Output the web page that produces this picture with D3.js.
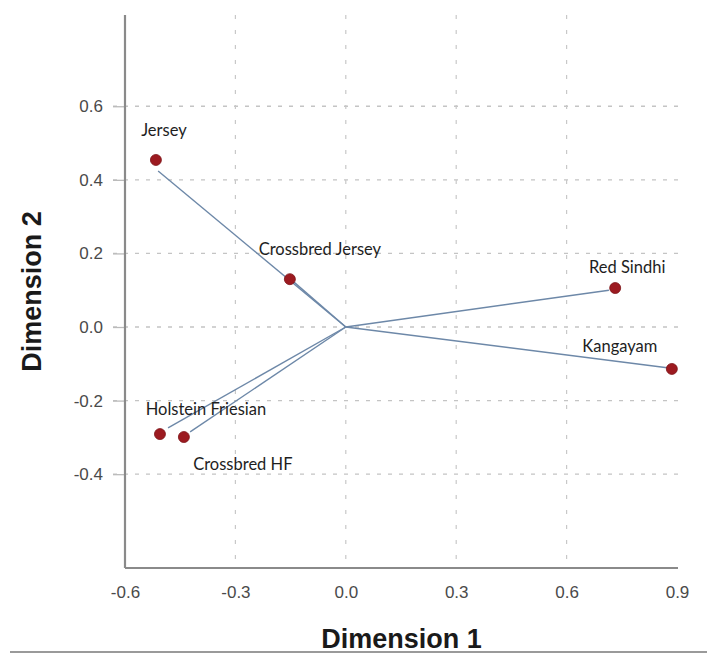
<!DOCTYPE html>
<html>
<head>
<meta charset="utf-8">
<script src="https://cdn.jsdelivr.net/npm/d3@7"></script>
<style>
  body { margin: 0; background: #fff; }
  .tick text { font-family: Arial, "Liberation Sans", sans-serif; font-size: 17px; fill: #4a4a4a; }
  .pointLabel { font-family: Lato, "Open Sans", sans-serif; font-size: 16.5px; fill: #1e1e1e; }
  .axisTitle { font-family: Arial, "Liberation Sans", sans-serif; font-size: 27px; font-weight: bold; fill: #1a1a1a; }
</style>
</head>
<body>
<div id="chart"></div>
<script>
// breeds and their coordinates on the two dimensions
var breeds = ["Jersey", "Crossbred Jersey", "Red Sindhi", "Kangayam", "Holstein Friesian", "Crossbred HF"];
var dim1 = [-0.516, -0.152, 0.732, 0.886, -0.505, -0.440];
var dim2 = [0.454, 0.130, 0.106, -0.114, -0.291, -0.299];

// end points of the vectors drawn from the origin
var vecDim1 = [-0.510, -0.158, 0.715, 0.884, -0.483, -0.423];
var vecDim2 = [0.424, 0.137, 0.100, -0.112, -0.274, -0.285];

var xTicks = [-0.6, -0.3, 0.0, 0.3, 0.6, 0.9];
var yTicks = [-0.4, -0.2, 0.0, 0.2, 0.4, 0.6];

// label placement, relative to each point (dx, dy)
var labelOffset = {
    "Jersey": [8, -24],
    "Crossbred Jersey": [30, -24],
    "Red Sindhi": [12, -15],
    "Kangayam": [-52, -17],
    "Holstein Friesian": [46, -19],
    "Crossbred HF": [59, 33]
};

var width = 707, height = 655;
var margin = { top: 15, right: 29, bottom: 87, left: 125 };

var svg = d3.select("#chart").append("svg")
    .attr("width", width)
    .attr("height", height);

var x = d3.scaleLinear()
    .domain([-0.6, 0.9])
    .range([margin.left, 677]);

var y = d3.scaleLinear()
    .domain([-0.655, 0.848])
    .range([height - margin.bottom, margin.top]);

var x0 = margin.left, x1 = width - margin.right;
var yBottom = height - margin.bottom, yTop = margin.top;

// plain hyphen for negatives, like the original
var fmt = function(d) { return d3.format(".1f")(d).replace("\u2212", "-"); };

// grid lines
svg.append("g").selectAll("line.hgrid")
    .data(yTicks)
    .enter().append("line")
    .attr("class", "hgrid")
    .attr("x1", x0 - 12)
    .attr("x2", x1)
    .attr("y1", function(d) { return y(d); })
    .attr("y2", function(d) { return y(d); })
    .attr("stroke", "#c4c4c4")
    .attr("stroke-width", 1.3)
    .attr("stroke-dasharray", "4,7");

svg.append("g").selectAll("line.vgrid")
    .data(xTicks.filter(function(d) { return d > -0.6 && d < 0.9; }))
    .enter().append("line")
    .attr("class", "vgrid")
    .attr("x1", function(d) { return x(d); })
    .attr("x2", function(d) { return x(d); })
    .attr("y1", yTop)
    .attr("y2", yBottom)
    .attr("stroke", "#c8c8c8")
    .attr("stroke-width", 1.2)
    .attr("stroke-dasharray", "4,11");

// axes
var yAxis = d3.axisLeft(y).tickValues(yTicks).tickFormat(fmt).tickSize(12).tickPadding(10);
var gy = svg.append("g")
    .attr("transform", "translate(" + x0 + ",0)")
    .call(yAxis);
gy.select(".domain").remove();
gy.selectAll(".tick line").attr("stroke", "#bbb").attr("stroke-width", 1.3);

var xAxis = d3.axisBottom(x).tickValues(xTicks).tickFormat(fmt).tickSize(0).tickPadding(18);
var gx = svg.append("g")
    .attr("transform", "translate(0," + yBottom + ")")
    .call(xAxis);
gx.select(".domain").remove();

svg.append("line")
    .attr("x1", x0).attr("x2", x0)
    .attr("y1", yTop).attr("y2", yBottom)
    .attr("stroke", "#8a8a8a").attr("stroke-width", 2.2);

svg.append("line")
    .attr("x1", x0).attr("x2", x1)
    .attr("y1", yBottom).attr("y2", yBottom)
    .attr("stroke", "#8a8a8a").attr("stroke-width", 2.2);

// vectors from origin
svg.append("g").selectAll("line.vec")
    .data(breeds)
    .enter().append("line")
    .attr("class", "vec")
    .attr("x1", x(0)).attr("y1", y(0))
    .attr("x2", function(d, i) { return x(vecDim1[i]); })
    .attr("y2", function(d, i) { return y(vecDim2[i]); })
    .attr("stroke", "#6d88a8")
    .attr("stroke-width", 1.4);

// points
svg.append("g").selectAll("circle")
    .data(breeds)
    .enter().append("circle")
    .attr("cx", function(d, i) { return x(dim1[i]); })
    .attr("cy", function(d, i) { return y(dim2[i]); })
    .attr("r", 5.5)
    .attr("fill", "#9c1a20")
    .attr("stroke", "#7d1418")
    .attr("stroke-width", 0.8);

// labels
svg.append("g").selectAll("text")
    .data(breeds)
    .enter().append("text")
    .attr("class", "pointLabel")
    .attr("x", function(d, i) { return x(dim1[i]) + labelOffset[d][0]; })
    .attr("y", function(d, i) { return y(dim2[i]) + labelOffset[d][1]; })
    .attr("text-anchor", "middle")
    .text(function(d) { return d; });

// axis titles
svg.append("text")
    .attr("class", "axisTitle")
    .attr("x", (x0 + x1) / 2)
    .attr("y", 648)
    .attr("text-anchor", "middle")
    .text("Dimension 1");

svg.append("text")
    .attr("class", "axisTitle")
    .attr("transform", "translate(41," + ((yTop + yBottom) / 2) + ") rotate(-90)")
    .attr("text-anchor", "middle")
    .text("Dimension 2");

// bottom border line
svg.append("line")
    .attr("x1", 10).attr("x2", width)
    .attr("y1", 652).attr("y2", 652)
    .attr("stroke", "#9a9a9a").attr("stroke-width", 2);
</script>
</body>
</html>
